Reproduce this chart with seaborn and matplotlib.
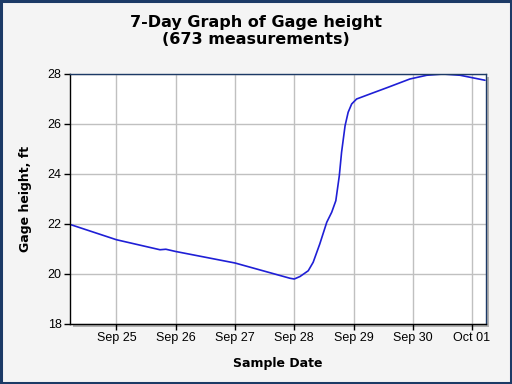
# 7-day gage height graph

import pandas as pd
import matplotlib.pyplot as plt
import matplotlib.dates as mdates
from matplotlib.patches import Rectangle
import seaborn as sns

# readings picked off the chart
sample_times = [
    "2023-09-24 05:35", "2023-09-25 00:00", "2023-09-25 17:37", "2023-09-25 20:00",
    "2023-09-26 00:00", "2023-09-27 00:00", "2023-09-27 22:15", "2023-09-28 00:00",
    "2023-09-28 02:20", "2023-09-28 05:40", "2023-09-28 07:40", "2023-09-28 10:20",
    "2023-09-28 13:10", "2023-09-28 15:10", "2023-09-28 16:50", "2023-09-28 18:15",
    "2023-09-28 19:10", "2023-09-28 20:35", "2023-09-28 21:50", "2023-09-28 23:15",
    "2023-09-29 01:15", "2023-09-29 06:40", "2023-09-29 13:30", "2023-09-29 22:50",
    "2023-09-30 05:40", "2023-09-30 12:15", "2023-09-30 19:10", "2023-10-01 05:15",
]
gage_height = [
    21.97, 21.37, 20.97, 20.99,
    20.90, 20.44, 19.83, 19.80,
    19.90, 20.13, 20.47, 21.20,
    22.07, 22.47, 22.93, 23.93,
    24.87, 25.93, 26.47, 26.80,
    27.00, 27.20, 27.45, 27.80,
    27.95, 28.00, 27.95, 27.75,
]
y_ticks = [18, 20, 22, 24, 26, 28]

df = pd.DataFrame({"time": pd.to_datetime(sample_times), "height": gage_height})

sns.set_style("white")
plt.rcParams["font.family"] = ["Liberation Sans", "DejaVu Sans"]
plt.rcParams["text.color"] = "black"
plt.rcParams["axes.labelcolor"] = "black"
plt.rcParams["xtick.color"] = "black"
plt.rcParams["ytick.color"] = "black"

fig = plt.figure(figsize=(5.12, 3.84), dpi=100, facecolor="#f4f4f4")
ax = fig.add_axes([70 / 512, 60 / 384, 416 / 512, 250 / 384])

# drop shadow behind the plot area and the outer frame
fig.patches.append(Rectangle((73 / 512, 57 / 384), 416 / 512, 250 / 384,
                             transform=fig.transFigure, facecolor="#b0b0b0",
                             edgecolor="none", zorder=-5))
fig.patches.append(Rectangle((0.002, 0.003), 0.996, 0.994, transform=fig.transFigure,
                             facecolor="none", edgecolor="#1c3a66", linewidth=2.2,
                             zorder=10))

sns.lineplot(data=df, x="time", y="height", ax=ax, color="#1f1fd6", linewidth=1.2)

ax.set_facecolor("white")
ax.set_xlim(pd.Timestamp("2023-09-24 05:10"), pd.Timestamp("2023-10-01 05:40"))
ax.set_ylim(18, 28)
ax.set_yticks(y_ticks)
ax.xaxis.set_major_locator(mdates.DayLocator())
ax.xaxis.set_major_formatter(mdates.DateFormatter("%b %d"))
ax.grid(True, color="#c0c0c0", linewidth=1)
ax.tick_params(axis="both", direction="out", length=4, width=1, color="black",
               labelsize=9, pad=2, left=True, bottom=True)

for side in ["left", "bottom"]:
    ax.spines[side].set_color("black")
    ax.spines[side].set_linewidth(1)
for side in ["top", "right"]:
    ax.spines[side].set_color("#1c3a66")
    ax.spines[side].set_linewidth(1)

ax.set_xlabel("Sample Date", fontsize=9, fontweight="bold", family="DejaVu Sans", labelpad=9)
ax.set_ylabel("Gage height, ft", fontsize=9, fontweight="bold", family="DejaVu Sans", labelpad=11)
fig.text(0.5, 0.96, "7-Day Graph of Gage height\n(673 measurements)", ha="center", va="top",
         fontsize=11.5, fontweight="bold", family="DejaVu Sans", linespacing=1.15)

fig.savefig("out.png", dpi=100, facecolor=fig.get_facecolor())
